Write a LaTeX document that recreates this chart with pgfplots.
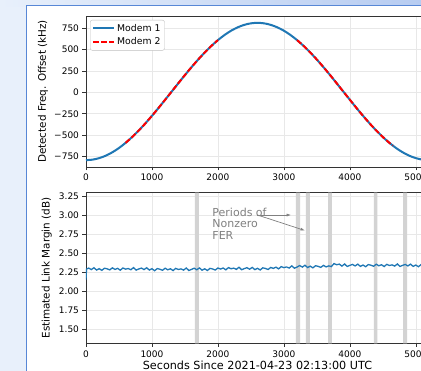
\documentclass[border=0pt]{standalone}
\usepackage{pgfplots}
\pgfplotsset{compat=1.18}
\usepackage{fontspec}
\setmainfont{DejaVu Sans}
\usetikzlibrary{arrows.meta}
\definecolor{mplblue}{HTML}{1F77B4}
\definecolor{bgblue}{HTML}{E8F0FB}
\definecolor{topblue}{HTML}{B7CCF1}
\definecolor{frameblue}{HTML}{5787D6}
\definecolor{bandgray}{HTML}{D3D3D3}
\definecolor{gridgray}{HTML}{E8E8E8}
\definecolor{annogray}{HTML}{808080}
\pgfplotsset{
  mystyle/.style={
    scale only axis, width=343pt, xmin=0, xmax=5200,
    axis line style={black!80, line width=0.6pt},
    tick align=outside, tick pos=left,
    major tick length=3.5pt,
    tick style={black!80, line width=0.6pt},
    grid=major, grid style={gridgray, line width=0.6pt},
    xtick={0,1000,2000,3000,4000,5000},
    xticklabels={0,1000,2000,3000,4000,5000},
    ticklabel style={font=\fontsize{9}{10}\selectfont},
    /pgf/number format/assume math mode=true,
    label style={font=\fontsize{10.4}{12}\selectfont},
  }
}
\begin{document}
\begin{tikzpicture}
\path[use as bounding box] (0,0) rectangle (421pt,371pt);
\clip (0,0) rectangle (421pt,371pt);
\fill[bgblue] (0,0) rectangle (421pt,371pt);
\shade[left color=bgblue, right color=topblue] (0,364pt) rectangle (421pt,371pt);
\fill[white] (26.5pt,-5pt) rectangle (430pt,365.5pt);
\draw[frameblue, line width=1.5pt] (26.5pt,-5pt) -- (26.5pt,365.5pt) -- (430pt,365.5pt);

% top axis
\begin{axis}[mystyle, at={(86pt,204pt)}, anchor=south west, height=151pt,
  ymin=-870, ymax=890,
  ytick={-750,-500,-250,0,250,500,750},
  yticklabels={−750,−500,−250,0,250,500,750},
  ylabel={Detected Freq. Offset (kHz)},
  ylabel style={at={(axis description cs:-0.125,0.5)}, anchor=center},
  unbounded coords=jump,
  legend style={at={(axis description cs:0.0117,0.9735)}, anchor=north west,
    font=\fontsize{9.3}{11}\selectfont, draw=black!25, rounded corners=2pt,
    fill=white, inner sep=2pt, row sep=1pt, cells={anchor=west}},
  legend image code/.code={\draw[#1] (0pt,0pt) -- (21pt,0pt);},
]
\addplot[mplblue, line width=2pt, smooth] coordinates {
(0,-790) (100,-784.2) (200,-766.7) (300,-738.0) (400,-698.4) (500,-648.4)
(600,-588.8) (700,-520.5) (800,-444.5) (900,-361.8) (1000,-273.7) (1100,-181.5)
(1200,-86.4) (1300,10) (1400,106.4) (1500,201.5) (1600,293.7) (1700,381.8)
(1800,464.5) (1900,540.5) (2000,608.8) (2100,668.4) (2200,718.4) (2300,758.0)
(2400,786.7) (2500,804.2) (2600,810) (2700,804.2) (2800,786.7) (2900,758.0)
(3000,718.4) (3100,668.4) (3200,608.8) (3300,540.5) (3400,464.5) (3500,381.8)
(3600,293.7) (3700,201.5) (3800,106.4) (3900,10) (4000,-86.4) (4100,-181.5)
(4200,-273.7) (4300,-361.8) (4400,-444.5) (4500,-520.5) (4600,-588.8) (4700,-648.4)
(4800,-698.4) (4900,-738.0) (5000,-766.7) (5100,-784.2) (5200,-790)
};
\addlegendentry{Modem 1}
\addplot[red, line width=2pt, smooth, dash pattern=on 5.5pt off 2.4pt] coordinates {
(600,-588.8) (700,-520.5) (800,-444.5) (900,-361.8) (1000,-273.7) (1100,-181.5)
(1200,-86.4) (1300,10) (1400,106.4) (1500,201.5) (1600,293.7) (1700,381.8)
(1800,464.5) (1900,540.5) (2000,608.8) (2100,nan)
(3200,608.8) (3300,540.5) (3400,464.5) (3500,381.8)
(3600,293.7) (3700,201.5) (3800,106.4) (3900,10) (4000,-86.4) (4100,-181.5)
(4200,-273.7) (4300,-361.8) (4400,-444.5) (4500,-520.5) (4600,-588.8) (4650,-619.7)
};
\addlegendentry{Modem 2}
\end{axis}

% bottom axis
\begin{axis}[mystyle, at={(86pt,27.7pt)}, anchor=south west, height=150.6pt,
  ymin=1.31, ymax=3.30,
  ytick={1.50,1.75,2.00,2.25,2.50,2.75,3.00,3.25},
  yticklabels={1.50,1.75,2.00,2.25,2.50,2.75,3.00,3.25},
  ylabel={Estimated Link Margin (dB)},
  ylabel style={at={(axis description cs:-0.1146,0.5)}, anchor=center},
  xlabel={Seconds Since 2021-04-23 02:13:00 UTC},
  xlabel style={at={(axis description cs:0.5,-0.144)}, anchor=center, font=\fontsize{11.2}{13}\selectfont},
]
\addplot[fill=bandgray, draw=none] coordinates {(1652,1.31) (1652,3.30) (1712,3.30) (1712,1.31)} \closedcycle;
\addplot[fill=bandgray, draw=none] coordinates {(3182,1.31) (3182,3.30) (3247,3.30) (3247,1.31)} \closedcycle;
\addplot[fill=bandgray, draw=none] coordinates {(3333,1.31) (3333,3.30) (3394,3.30) (3394,1.31)} \closedcycle;
\addplot[fill=bandgray, draw=none] coordinates {(3672,1.31) (3672,3.30) (3727,3.30) (3727,1.31)} \closedcycle;
\addplot[fill=bandgray, draw=none] coordinates {(4364,1.31) (4364,3.30) (4419,3.30) (4419,1.31)} \closedcycle;
\addplot[fill=bandgray, draw=none] coordinates {(4808,1.31) (4808,3.30) (4869,3.30) (4869,1.31)} \closedcycle;
\addplot[mplblue, line width=1.3pt] coordinates {
(0,2.15) (8,2.29) (40,2.304) (80,2.284) (120,2.308) (160,2.278) (200,2.296)
(240,2.274) (280,2.302) (320,2.294) (360,2.280) (400,2.307) (440,2.286)
(480,2.300) (520,2.276) (560,2.305) (600,2.290) (640,2.298) (680,2.282)
(720,2.310) (760,2.277) (800,2.292) (840,2.304) (880,2.284) (920,2.308)
(960,2.278) (1000,2.296) (1040,2.269) (1080,2.297) (1120,2.289) (1160,2.275)
(1200,2.302) (1240,2.281) (1280,2.295) (1320,2.271) (1360,2.300) (1400,2.285)
(1440,2.293) (1480,2.277) (1520,2.305) (1560,2.272) (1600,2.287) (1640,2.302)
(1680,2.282) (1720,2.306) (1760,2.276) (1800,2.294) (1840,2.272) (1880,2.300)
(1920,2.292) (1960,2.278) (2000,2.305) (2040,2.291) (2080,2.305) (2120,2.281)
(2160,2.310) (2200,2.295) (2240,2.303) (2280,2.287) (2320,2.315) (2360,2.282)
(2400,2.297) (2440,2.309) (2480,2.289) (2520,2.313) (2560,2.283) (2600,2.301)
(2640,2.279) (2680,2.307) (2720,2.299) (2760,2.285) (2800,2.312) (2840,2.300)
(2880,2.316) (2920,2.293) (2960,2.323) (3000,2.310) (3040,2.319) (3080,2.304)
(3120,2.333) (3160,2.302) (3200,2.318) (3240,2.337) (3280,2.317) (3320,2.341)
(3360,2.311) (3400,2.329) (3440,2.307) (3480,2.335) (3520,2.327) (3560,2.313)
(3600,2.340) (3640,2.319) (3680,2.333) (3720,2.324) (3760,2.363) (3800,2.348)
(3840,2.356) (3880,2.330) (3920,2.358) (3960,2.325) (4000,2.340) (4040,2.352)
(4080,2.332) (4120,2.356) (4160,2.326) (4200,2.344) (4240,2.322) (4280,2.350)
(4320,2.342) (4360,2.328) (4400,2.355) (4440,2.334) (4480,2.348) (4520,2.324)
(4560,2.353) (4600,2.338) (4640,2.346) (4680,2.330) (4720,2.358) (4760,2.325)
(4800,2.340) (4840,2.352) (4880,2.332) (4920,2.356) (4960,2.326) (5000,2.344)
(5040,2.322) (5080,2.350) (5120,2.342) (5160,2.328) (5200,2.355)
};
\node[anchor=north west, inner sep=0pt, align=left, text=annogray,
  font=\fontsize{11}{11.3}\selectfont] at (axis cs:1914,3.097) {Periods of\\Nonzero\\FER};
\draw[annogray, line width=0.7pt, -{Latex[length=4.5pt,width=3pt]}] (axis cs:2600,3.005) -- (axis cs:3110,3.005);
\draw[annogray, line width=0.7pt, -{Latex[length=4.5pt,width=3pt]}] (axis cs:2600,3.005) -- (axis cs:3320,2.80);
\end{axis}
\end{tikzpicture}
\end{document}
